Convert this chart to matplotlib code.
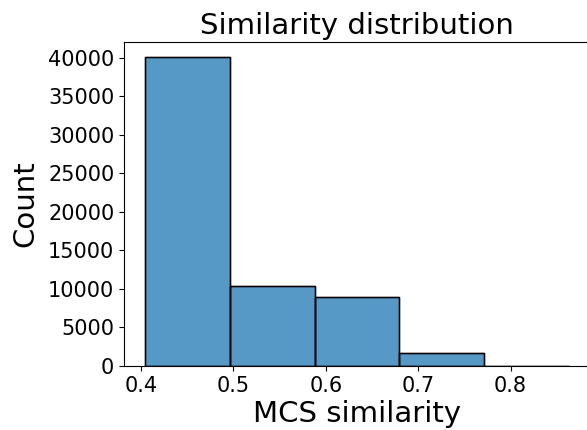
import matplotlib
matplotlib.use("Agg")
import matplotlib.pyplot as plt

bin_edges = [0.4047, 0.4964, 0.5880, 0.6797, 0.7714, 0.8627]
counts = [40130, 10415, 8990, 1650, 60]
xticks = [0.4, 0.5, 0.6, 0.7, 0.8]
yticks = [0, 5000, 10000, 15000, 20000, 25000, 30000, 35000, 40000]

fig = plt.figure(figsize=(5.87, 4.30), dpi=100)
ax = fig.add_axes([0.2112, 0.1488, 0.7934, 0.7535])
lefts = bin_edges[:-1]
widths = [b - a for a, b in zip(bin_edges[:-1], bin_edges[1:])]
ax.bar(lefts, counts, width=widths, align='edge', color='#1f77b4', alpha=0.75,
       edgecolor='black', linewidth=1.0)
ax.bar(lefts, counts, width=widths, align='edge', fill=False,
       edgecolor='black', linewidth=1.0)
ax.set_xlim(0.3816, 0.8856)
ax.set_ylim(0, 42020)
ax.set_xticks(xticks)
ax.set_yticks(yticks)
ax.tick_params(labelsize=15)
ax.set_xlabel('MCS similarity', fontsize=21, labelpad=3)
ax.set_ylabel('Count', fontsize=21, labelpad=6)
ax.set_title('Similarity distribution', fontsize=21)
fig.savefig('out.png', dpi=100)
